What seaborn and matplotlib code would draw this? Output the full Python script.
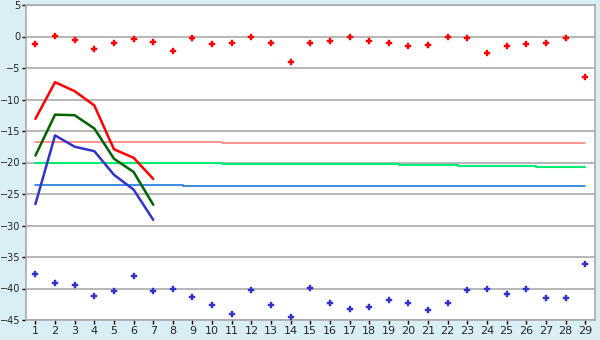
import matplotlib
matplotlib.use("Agg")
import matplotlib.pyplot as plt
import seaborn as sns
import numpy as np
import pandas as pd

days = list(range(1, 30))
red_pts = [-1.17, 0.1, -0.53, -1.96, -1.0, -0.37, -0.85, -2.28, -0.2, -1.17,
           -1.0, -0.05, -1.0, -4.0, -1.0, -0.69, -0.05, -0.69, -1.0, -1.48,
           -1.32, -0.05, -0.2, -2.6, -1.48, -1.17, -1.0, -0.2, -6.4]
blue_pts = [-37.67, -39.1, -39.4, -41.2, -40.4, -38.0, -40.4, -40.05, -41.3, -42.6,
            -44.0, -40.2, -42.6, -44.5, -39.9, -42.3, -43.2, -42.9, -41.8, -42.3,
            -43.4, -42.3, -40.2, -40.05, -40.8, -40.05, -41.5, -41.5, -36.1]
line_days = [1, 2, 3, 4, 5, 6, 7]
red_line = [-13.07, -7.25, -8.68, -10.95, -17.9, -19.25, -22.6]
green_line = [-18.9, -12.4, -12.5, -14.6, -19.4, -21.5, -26.7]
blue_line = [-26.6, -15.7, -17.5, -18.2, -21.95, -24.3, -29.1]

# step reference lines: (x breakpoints, values)
pink_x = [1, 10.5, 10.5, 29]
pink_y = [-16.72, -16.72, -16.87, -16.87]
green_x = [1, 10.5, 10.5, 19.5, 19.5, 22.5, 22.5, 26.5, 26.5, 29]
green_y = [-20.05, -20.05, -20.2, -20.2, -20.37, -20.37, -20.5, -20.5, -20.7, -20.7]
blue_x = [1, 8.5, 8.5, 29]
blue_y = [-23.5, -23.5, -23.7, -23.7]

sns.set_style("white")
plt.rcParams['font.family'] = ['DejaVu Sans']

fig = plt.figure(figsize=(6, 3.4), dpi=100, facecolor='#daeef5')
ax = fig.add_axes([26/600, 1-320/340, (595-26)/600, 315/340])
ax.set_facecolor('white')

ax.set_ylim(-45, 5)
ax.set_xlim(0.52, 29.5)
ax.set_yticks(np.arange(-45, 6, 5))
ax.set_xticks(days)
ax.yaxis.grid(True, color='#aaaaaa', linewidth=1.2)
ax.set_axisbelow(True)

for s in ['left', 'bottom', 'top', 'right']:
    ax.spines[s].set_color('#aaaaaa')
    ax.spines[s].set_linewidth(1.2)

ax.plot(pink_x, pink_y, color='#ff8080', linewidth=1.2, zorder=2)
ax.plot(green_x, green_y, color='#00ee77', linewidth=1.5, zorder=2)
ax.plot(blue_x, blue_y, color='#1e78e0', linewidth=1.2, zorder=2)

sns.lineplot(x=line_days, y=red_line, ax=ax, color='#ff0000', linewidth=1.8, zorder=3)
sns.lineplot(x=line_days, y=green_line, ax=ax, color='#006400', linewidth=1.8, zorder=3)
sns.lineplot(x=line_days, y=blue_line, ax=ax, color='#3333cc', linewidth=1.8, zorder=3)

sns.scatterplot(x=days, y=red_pts, ax=ax, color='#ff0000', marker='P', s=20,
                linewidth=0.3, edgecolor='#ff0000', zorder=4)
sns.scatterplot(x=days, y=blue_pts, ax=ax, color='#3333cc', marker='P', s=20,
                linewidth=0.3, edgecolor='#3333cc', zorder=4)

ax.tick_params(axis='x', which='both', direction='out', length=3, width=1,
               color='black', labelsize=8, pad=1.5, bottom=True)
ax.tick_params(axis='y', which='both', direction='out', length=3, width=1,
               color='black', labelsize=7, pad=1, left=True)
ax.set_yticklabels([f"{v}".replace('-', '\u2212') for v in range(-45, 6, 5)])
ax.set_xlabel('')
ax.set_ylabel('')

fig.savefig('out.png', dpi=100, facecolor=fig.get_facecolor())
